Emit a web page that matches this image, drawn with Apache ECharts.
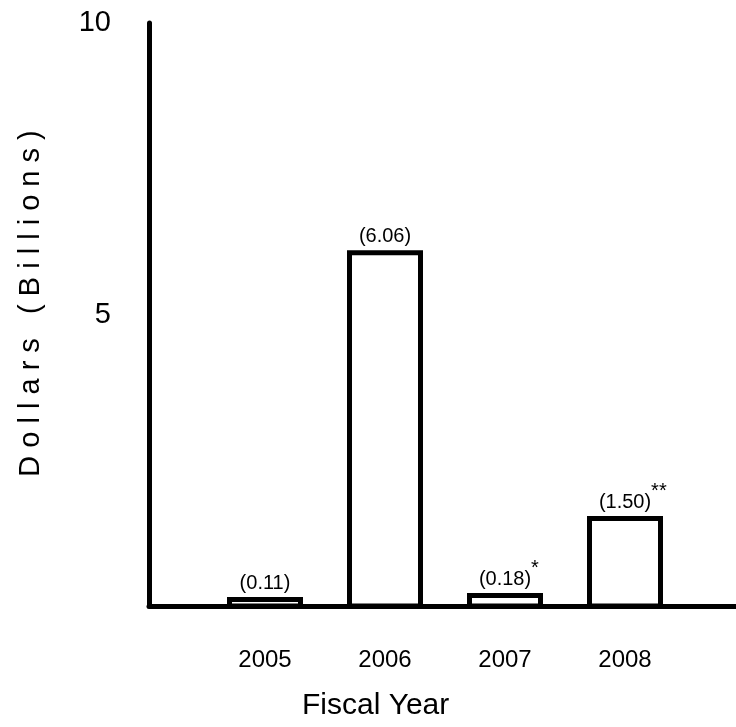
<!DOCTYPE html>
<html>
<head>
<meta charset="utf-8">
<script src="https://cdn.jsdelivr.net/npm/echarts@6/dist/echarts.min.js"></script>
<style>
  html, body { margin: 0; padding: 0; background: #fff; }
  #chart { width: 736px; height: 727px; }
</style>
</head>
<body>
<div id="chart"></div>
<script>
var years = ['2005', '2006', '2007', '2008'];
var amounts = [0.11, 6.06, 0.18, 1.50];
var notes = ['', '', '*', '**'];
var yTicks = [0, 5, 10];

var font = 'Liberation Sans, Arial, Helvetica, sans-serif';
var barRatio = 71 / 120;

var myChart = echarts.init(document.getElementById('chart'));

var barData = years.map(function (y, i) {
    return [i, amounts[i]];
});

// bars drawn by hand so the outline sits centred on the value edge
function renderBar(params, api) {
    var i = params.dataIndex;
    var v = api.value(1);
    var top = api.coord([api.value(0), v]);
    var base = api.coord([api.value(0), 0]);
    var w = api.size([1, 0])[0] * barRatio;
    var n = notes[i];
    var txt = '{n|(' + v.toFixed(2) + ')}';
    if (n) txt = '{h|' + n + '}' + txt + '{s|' + n + '}';
    return {
        type: 'rect',
        shape: { x: top[0] - w / 2, y: top[1], width: w, height: base[1] - top[1] },
        style: { fill: '#fff', stroke: '#000', lineWidth: 5 },
        textContent: {
            type: 'text',
            style: {
                text: txt,
                rich: {
                    n: { fontFamily: font, fontSize: 20, fill: '#000', lineHeight: 22, verticalAlign: 'bottom' },
                    s: { fontFamily: font, fontSize: 20, fill: '#000', padding: [0, 0, 11, 0], verticalAlign: 'bottom' },
                    h: { fontFamily: font, fontSize: 20, fill: 'rgba(0,0,0,0)', padding: [0, 0, 11, 0], verticalAlign: 'bottom' }
                }
            }
        },
        textConfig: { position: 'top', distance: 4 }
    };
}

var option = {
    backgroundColor: '#fff',
    animation: false,
    title: {
        text: 'Fiscal Year',
        left: 302,
        top: 691,
        padding: 0,
        textStyle: { fontFamily: font, fontSize: 30, fontWeight: 'normal', color: '#000' }
    },
    grid: [
        { left: 149, right: 0, top: 23, bottom: 121 },
        { left: 205, width: 480, top: 23, bottom: 121 }
    ],
    xAxis: [
        {
            gridIndex: 0, type: 'value', min: 0, max: 1,
            axisLine: { show: true, lineStyle: { color: '#000', width: 5 } },
            axisTick: { show: false }, axisLabel: { show: false }, splitLine: { show: false }
        },
        {
            gridIndex: 1, type: 'category', data: years,
            axisLine: { show: false }, axisTick: { show: false },
            axisLabel: { margin: 42, color: '#000', fontFamily: font, fontSize: 24 }
        }
    ],
    yAxis: [
        {
            gridIndex: 0, type: 'value', min: yTicks[0], max: yTicks[2], interval: yTicks[1],
            name: 'D o l l a r s   ( B i l l i o n s )',
            nameLocation: 'middle', nameRotate: 90, nameGap: 104,
            nameTextStyle: { fontFamily: font, fontSize: 29, color: '#000', padding: [0, 0, 0, 22] },
            axisLine: { show: true, lineStyle: { color: '#000', width: 5 } },
            axisTick: { show: false }, splitLine: { show: false },
            axisLabel: { showMinLabel: false, margin: 38, color: '#000', fontFamily: font, fontSize: 29 }
        },
        {
            gridIndex: 1, type: 'value', min: 0, max: 10, show: false
        }
    ],
    series: [
        {
            type: 'custom',
            xAxisIndex: 1, yAxisIndex: 1,
            data: barData,
            encode: { x: 0, y: 1 },
            renderItem: renderBar
        }
    ]
};
myChart.setOption(option);
</script>
</body>
</html>
